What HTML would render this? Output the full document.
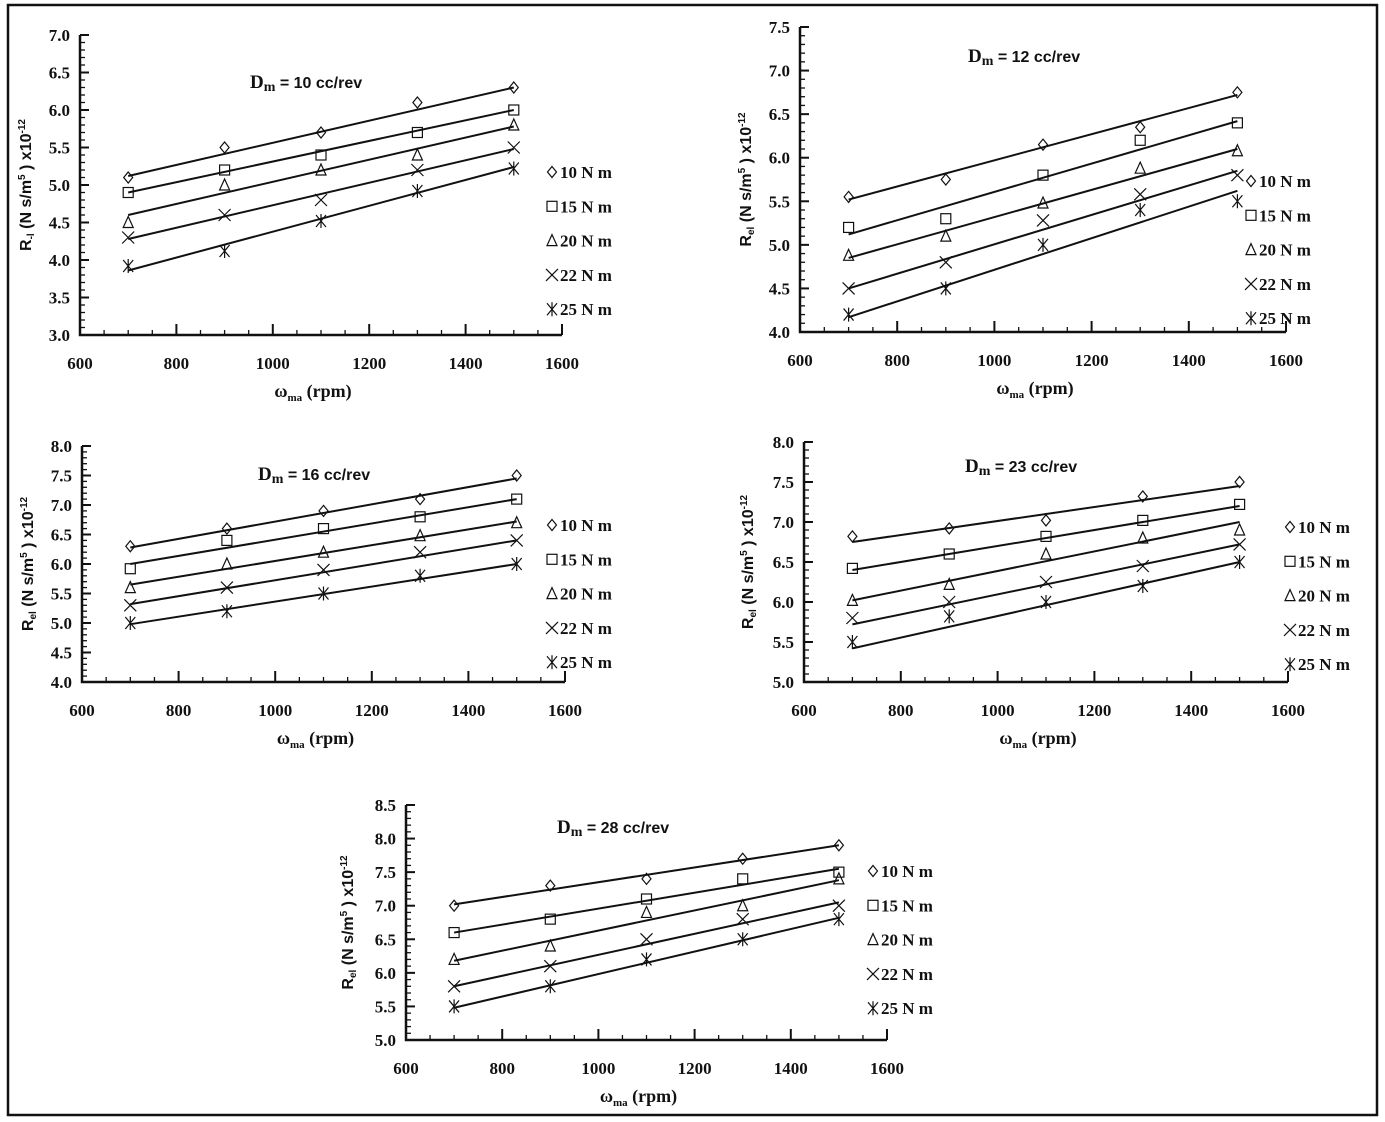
<!DOCTYPE html>
<html><head><meta charset="utf-8"><style>
html,body{margin:0;padding:0;background:#fff;}
svg{display:block;}
text{font-family:"Liberation Serif",serif;font-weight:bold;fill:#111;}
.s{font-family:"Liberation Sans",sans-serif;}
</style></head><body>
<svg id="c" width="1385" height="1122" xmlns="http://www.w3.org/2000/svg"></svg>
<script>
const svg=document.getElementById('c');
let h='<rect x="8" y="5" width="1369" height="1110" fill="none" stroke="#111" stroke-width="2.5"/>';
const plots=[
 {x0:80,x1:562,ymin:3,ymax:7,yt:35,yb:335,step:0.5,title:'10',tx:250,ty:88,lx:552,ly:172,ylab:'R',sub:'-l',ylx:22,
  data:[[5.1,5.5,5.7,6.1,6.3],[4.9,5.2,5.4,5.7,6.0],[4.5,5.0,5.2,5.4,5.8],[4.3,4.6,4.8,5.2,5.5],[3.92,4.12,4.52,4.92,5.22]],
  lines:[[5.12,6.3],[4.9,6.0],[4.6,5.78],[4.28,5.48],[3.86,5.24]]},
 {x0:800,x1:1286,ymin:4,ymax:7.5,yt:27,yb:332,step:0.5,title:'12',tx:968,ty:62,lx:1251,ly:181,ylab:'R',sub:'el',ylx:742,
  data:[[5.55,5.75,6.15,6.35,6.75],[5.2,5.3,5.8,6.2,6.4],[4.88,5.1,5.48,5.88,6.08],[4.5,4.8,5.28,5.58,5.8],[4.2,4.5,5.0,5.4,5.5]],
  lines:[[5.52,6.72],[5.12,6.42],[4.85,6.1],[4.5,5.85],[4.17,5.62]]},
 {x0:82,x1:565,ymin:4,ymax:8,yt:446,yb:682,step:0.5,title:'16',tx:258,ty:480,lx:552,ly:525,ylab:'R',sub:'el',ylx:24,
  data:[[6.3,6.6,6.9,7.1,7.5],[5.92,6.4,6.6,6.8,7.1],[5.6,6.0,6.2,6.48,6.7],[5.3,5.6,5.9,6.2,6.4],[5.0,5.2,5.5,5.8,6.0]],
  lines:[[6.28,7.45],[6.0,7.1],[5.65,6.72],[5.32,6.4],[4.98,6.0]]},
 {x0:804,x1:1288,ymin:5,ymax:8,yt:442,yb:682,step:0.5,title:'23',tx:965,ty:472,lx:1290,ly:527,ylab:'R',sub:'el',ylx:744,
  data:[[6.82,6.92,7.02,7.32,7.5],[6.42,6.6,6.82,7.02,7.22],[6.02,6.22,6.6,6.8,6.9],[5.8,6.0,6.25,6.45,6.72],[5.5,5.82,6.0,6.2,6.5]],
  lines:[[6.75,7.45],[6.4,7.2],[6.02,7.0],[5.72,6.72],[5.42,6.5]]},
 {x0:406,x1:887,ymin:5,ymax:8.5,yt:805,yb:1040,step:0.5,title:'28',tx:557,ty:833,lx:873,ly:871,ylab:'R',sub:'el',ylx:344,
  data:[[7.0,7.3,7.4,7.7,7.9],[6.6,6.8,7.1,7.4,7.5],[6.2,6.4,6.9,7.0,7.4],[5.8,6.1,6.5,6.8,7.0],[5.5,5.8,6.2,6.5,6.8]],
  lines:[[7.02,7.9],[6.6,7.55],[6.18,7.38],[5.8,7.05],[5.48,6.82]]}
];
function mk(t,x,y){
 const r=5.5;
 if(t==0)return `<path d="M${x} ${y-r}L${x+r-1} ${y}L${x} ${y+r}L${x-r+1} ${y}Z" fill="none" stroke="#111" stroke-width="1.2"/>`;
 if(t==1)return `<rect x="${x-5}" y="${y-5}" width="10" height="10" fill="none" stroke="#111" stroke-width="1.2"/>`;
 if(t==2)return `<path d="M${x} ${y-6}L${x+5} ${y+5}L${x-5} ${y+5}Z" fill="none" stroke="#111" stroke-width="1.2"/>`;
 if(t==3)return `<path d="M${x-6} ${y-6}L${x+6} ${y+6}M${x+6} ${y-6}L${x-6} ${y+6}" stroke="#111" stroke-width="1.2"/>`;
 return `<path d="M${x-5} ${y-6}L${x+5} ${y+6}M${x+5} ${y-6}L${x-5} ${y+6}M${x} ${y-7}L${x} ${y+7}" stroke="#111" stroke-width="1.2"/>`;
}
const names=['10 N m','15 N m','20 N m','22 N m','25 N m'];
plots.forEach(p=>{
 const X=v=>p.x0+(v-600)/1000*(p.x1-p.x0);
 const Y=v=>p.yb-(v-p.ymin)/(p.ymax-p.ymin)*(p.yb-p.yt);
 h+=`<path d="M${p.x0} ${p.yt}V${p.yb}H${p.x1}" fill="none" stroke="#111" stroke-width="2.5"/>`;
 for(let v=600;v<=1600;v+=50){const x=X(v);const big=v%200==0;h+=`<line x1="${x}" y1="${p.yb}" x2="${x}" y2="${p.yb-(big?11:5)}" stroke="#111" stroke-width="${big?2:1.3}"/>`;}
 for(let v=600;v<=1600;v+=200)h+=`<text x="${X(v)}" y="${p.yb+34}" font-size="17" text-anchor="middle">${v}</text>`;
 const n=Math.round((p.ymax-p.ymin)/0.1);
 for(let i=0;i<=n;i++){const v=p.ymin+i*0.1;const y=Y(v);const big=i%5==0;h+=`<line x1="${p.x0}" y1="${y}" x2="${p.x0+(big?9:5)}" y2="${y}" stroke="#111" stroke-width="${big?2:1.3}"/>`;
  if(big)h+=`<text x="${p.x0-10}" y="${y+6}" font-size="17" text-anchor="end">${v.toFixed(1)}</text>`;}
 p.lines.forEach((l,i)=>{h+=`<line x1="${X(700)}" y1="${Y(l[0])}" x2="${X(1500)}" y2="${Y(l[1])}" stroke="#111" stroke-width="2"/>`;});
 p.data.forEach((d,i)=>d.forEach((v,j)=>{h+=mk(i,X(700+200*j),Y(v));}));
 names.forEach((nm,i)=>{const y=p.ly+i*34.3;h+=mk(i,p.lx,y)+`<text x="${p.lx+8}" y="${y+6}" font-size="17">${nm}</text>`;});
 h+=`<text x="${p.tx}" y="${p.ty}" font-size="19">D<tspan font-size="14" dy="3">m</tspan><tspan dy="-3" class="s" font-size="16"> = ${p.title} cc/rev</tspan></text>`;
 const cx=(p.x0+p.x1)/2-8;
 h+=`<text x="${cx}" y="${p.yb+62}" font-size="18" text-anchor="middle">ω<tspan font-size="11" dy="4">ma</tspan><tspan dy="-4"> (rpm)</tspan></text>`;
 const cy=(p.yt+p.yb)/2;
 h+=`<text class="s" transform="translate(${p.ylx+9},${cy}) rotate(-90)" font-size="16" text-anchor="middle">R<tspan font-size="10" dy="3">${p.sub}</tspan><tspan dy="-3"> (N s/m</tspan><tspan font-size="10" dy="-6">5</tspan><tspan dy="6"> ) x10</tspan><tspan font-size="10" dy="-6">-12</tspan></text>`;
});
svg.innerHTML=h;
</script>
</body></html>
